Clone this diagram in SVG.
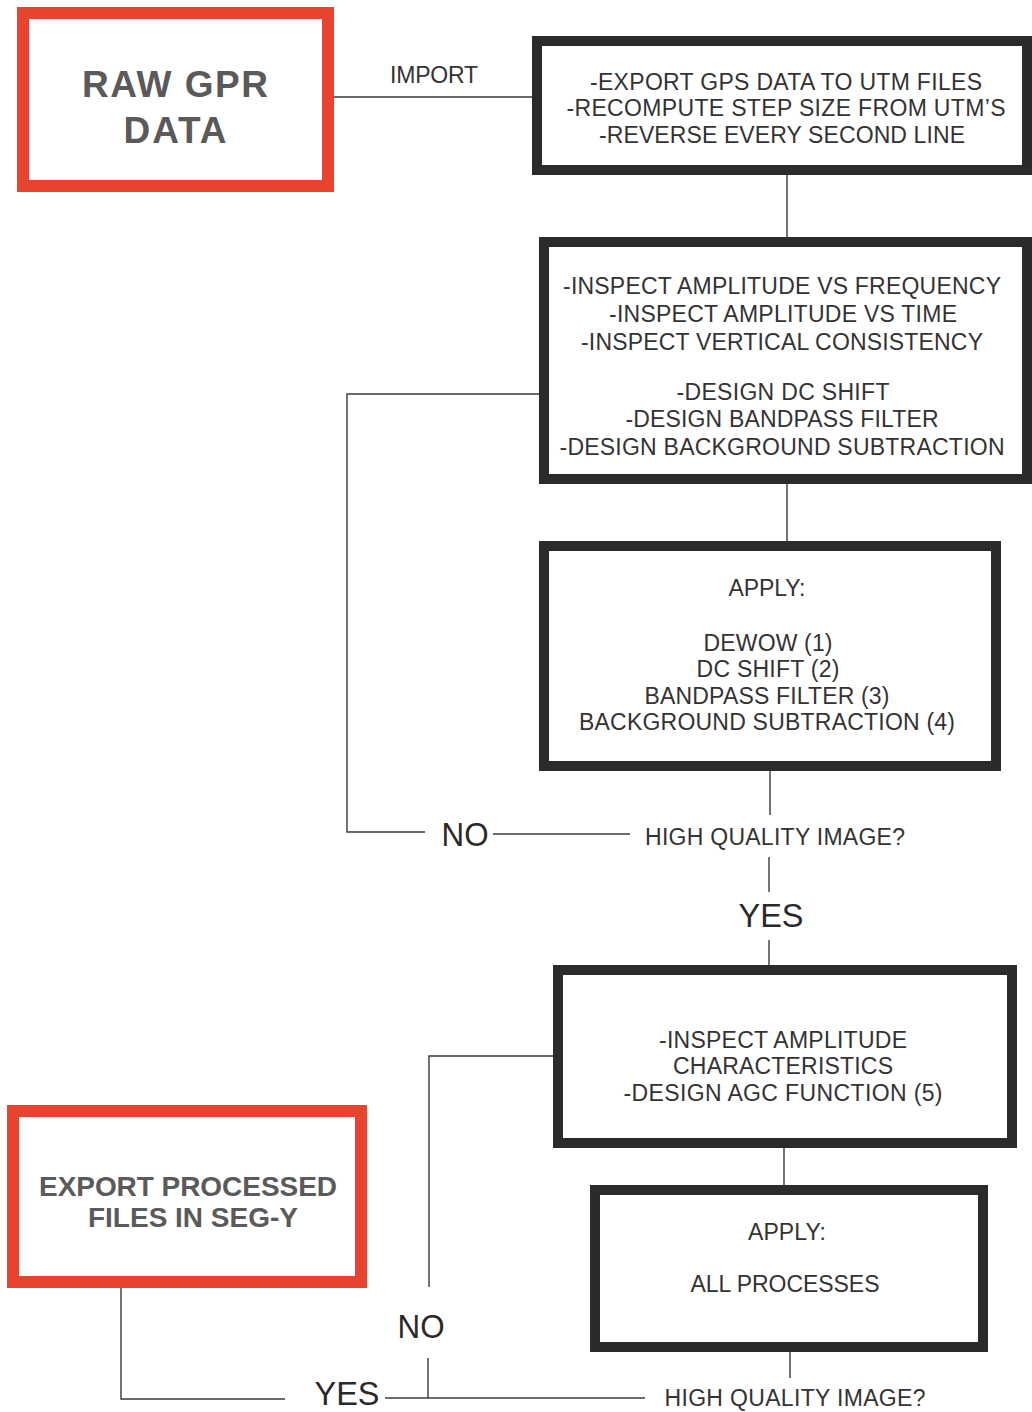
<svg xmlns="http://www.w3.org/2000/svg" width="1032" height="1412" viewBox="0 0 1032 1412">
<style>
.red{fill:#fff;stroke:#e8432f;stroke-width:12}
.blk{fill:#fff;stroke:#2b2b2b;stroke-width:10}
.t{font-family:"Liberation Sans",Arial,sans-serif;font-size:23px;fill:#333;text-anchor:middle}
.big{font-family:"Liberation Sans",Arial,sans-serif;font-size:33px;fill:#2a2a2a;text-anchor:middle}
.bold{font-family:"Liberation Sans",Arial,sans-serif;font-weight:bold;fill:#5a5a5a;text-anchor:middle}
.c{fill:none;stroke:#3a3a3a;stroke-width:1.4}
</style>
<rect width="1032" height="1412" fill="#fff"/>
<g id="connectors">
<path class="c" d="M334 97H535"/>
<path class="c" d="M787 174V238"/>
<path class="c" d="M787 484V541"/>
<path class="c" d="M539 394H347V832H425"/>
<path class="c" d="M493 834H630"/>
<path class="c" d="M770 771V815"/>
<path class="c" d="M769 857V892"/>
<path class="c" d="M769 940V966"/>
<path class="c" d="M784 1148V1186"/>
<path class="c" d="M553 1056H429V1287"/>
<path class="c" d="M428 1358V1398"/>
<path class="c" d="M385 1398H645"/>
<path class="c" d="M790 1352V1378"/>
<path class="c" d="M285 1399H121V1287"/>
</g>
<g id="raw">
<rect class="red" x="23" y="13" width="305" height="173"/>
<text class="bold" x="175" y="97" font-size="37" textLength="186">RAW GPR</text>
<text class="bold" x="175" y="143" font-size="37" textLength="103">DATA</text>
</g>
<g id="import-label">
<text class="t" x="434" y="83" font-size="21" textLength="88">IMPORT</text>
</g>
<g id="gps">
<rect class="blk" x="537" y="41" width="490" height="129"/>
<text class="t" x="786" y="90" textLength="392">-EXPORT GPS DATA TO UTM FILES</text>
<text class="t" x="786" y="116" textLength="439">-RECOMPUTE STEP SIZE FROM UTM’S</text>
<text class="t" x="782" y="143" textLength="366">-REVERSE EVERY SECOND LINE</text>
</g>
<g id="inspect">
<rect class="blk" x="544" y="242" width="483" height="237"/>
<text class="t" x="782" y="294" textLength="438">-INSPECT AMPLITUDE VS FREQUENCY</text>
<text class="t" x="783" y="322" textLength="348">-INSPECT AMPLITUDE VS TIME</text>
<text class="t" x="782" y="350" textLength="402">-INSPECT VERTICAL CONSISTENCY</text>
<text class="t" x="783" y="400" textLength="213">-DESIGN DC SHIFT</text>
<text class="t" x="782" y="427" textLength="313">-DESIGN BANDPASS FILTER</text>
<text class="t" x="782" y="455" textLength="445">-DESIGN BACKGROUND SUBTRACTION</text>
</g>
<g id="apply1">
<rect class="blk" x="544" y="546" width="452" height="220"/>
<text class="t" x="767" y="596" textLength="77">APPLY:</text>
<text class="t" x="768" y="651" textLength="129">DEWOW (1)</text>
<text class="t" x="768" y="677" textLength="143">DC SHIFT (2)</text>
<text class="t" x="767" y="704" textLength="245">BANDPASS FILTER (3)</text>
<text class="t" x="767" y="730" textLength="376">BACKGROUND SUBTRACTION (4)</text>
</g>
<g id="decision1">
<text class="t" x="775" y="845" textLength="260">HIGH QUALITY IMAGE?</text>
<text class="big" x="465" y="846" textLength="47" lengthAdjust="spacingAndGlyphs">NO</text>
<text class="big" x="771" y="927" textLength="65" lengthAdjust="spacingAndGlyphs">YES</text>
</g>
<g id="agc">
<rect class="blk" x="558" y="970" width="454" height="173"/>
<text class="t" x="783" y="1048" textLength="248">-INSPECT AMPLITUDE</text>
<text class="t" x="783" y="1074" textLength="220">CHARACTERISTICS</text>
<text class="t" x="783" y="1101" textLength="319">-DESIGN AGC FUNCTION (5)</text>
</g>
<g id="apply2">
<rect class="blk" x="595" y="1190" width="388" height="157"/>
<text class="t" x="787" y="1240" textLength="78">APPLY:</text>
<text class="t" x="785" y="1292" textLength="189">ALL PROCESSES</text>
</g>
<g id="decision2">
<text class="t" x="795" y="1406" textLength="261">HIGH QUALITY IMAGE?</text>
<text class="big" x="421" y="1338" textLength="47" lengthAdjust="spacingAndGlyphs">NO</text>
<text class="big" x="347" y="1405" font-size="31" textLength="65" lengthAdjust="spacingAndGlyphs">YES</text>
</g>
<g id="export">
<rect class="red" x="13" y="1111" width="348" height="171"/>
<text class="bold" x="188" y="1196" font-size="28" textLength="298">EXPORT PROCESSED</text>
<text class="bold" x="193" y="1227" font-size="28" textLength="210">FILES IN SEG-Y</text>
</g>
</svg>
